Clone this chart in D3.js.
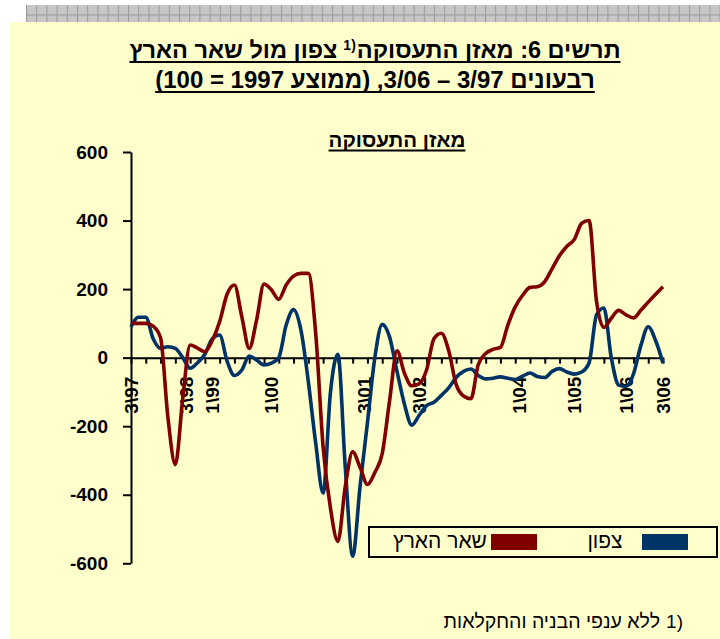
<!DOCTYPE html>
<html>
<head>
<meta charset="utf-8">
<script src="https://cdn.jsdelivr.net/npm/d3@7"></script>
<style>
body { margin: 0; background: #fff; }
text { font-family: "Liberation Sans", Arial, sans-serif; }
</style>
</head>
<body>
<div class="render"></div>
<script>
// series: north vs rest of the country, index 0..72 (half a tick mark apart)
var north = [90, 118, 118, 55, 27, 32, 27, 0, -31, -15, 10, 55, 66, -10, -52, -36, 5, -7, -21, -16,
   0, 95, 140, 80, -70, -250, -395, -100, 10, -320, -579, -376, -190, 0, 97, 60, -40, -135, -197, -168,
   -140, -130, -110, -88, -58, -40, -33, -52, -62, -60, -56, -60, -64, -54, -45, -55, -58, -40, -32, -42,
   -48, -42, -15, 125, 145, 0, -80, -84, -48, 35, 90, 50, -16];
var rest = [100, 100, 100, 92, 58, -175, -312, -120, 37, 28, 17, 50, 105, 185, 212, 119, 27, 110, 215, 198,
   170, 212, 238, 246, 246, 70, -260, -440, -536, -376, -275, -320, -370, -335, -280, -125, 20, -45, -82, -76,
   -36, 55, 71, 20, -78, -112, -120, -20, 12, 24, 30, 95, 148, 182, 205, 207, 222, 260, 298, 325,
   345, 392, 400, 165, 88, 115, 138, 125, 116, 138, 162, 185, 207];
var seriesNames = ['צפון', 'שאר הארץ'];
var seriesColors = ['#003366', '#800000'];
var xLabels = ['3\\97', '3\\98', '1\\99', '1\\00', '3\\01', '3\\02', '1\\04', '1\\05', '1\\06', '3\\06'];
var xLabelAt = [0, 7.5, 11, 19, 31.5, 39, 52.5, 60, 67, 72];
var yTicks = [-600, -400, -200, 0, 200, 400, 600];

var w = 720, h = 639;
var svg = d3.select('.render').append('svg').attr('width', w).attr('height', h);

// grey strip on top
var defs = svg.append('defs');
var pat = defs.append('pattern').attr('id', 'strip').attr('patternUnits', 'userSpaceOnUse')
   .attr('x', 26).attr('y', 5).attr('width', 10.2).attr('height', 17);
pat.append('rect').attr('width', 10.2).attr('height', 17).attr('fill', '#c6c6c6');
pat.append('rect').attr('x', 0).attr('width', 1).attr('height', 17).attr('fill', '#9a9a9a');
pat.append('rect').attr('y', 9.5).attr('width', 10.2).attr('height', 1).attr('fill', '#9a9a9a');
svg.append('rect').attr('x', 26).attr('y', 5).attr('width', w - 26).attr('height', 17).attr('fill', 'url(#strip)');

svg.append('rect').attr('x', 10).attr('y', 22).attr('width', w - 10).attr('height', h - 22).attr('fill', '#ffffcc');

// title line 1, built from pieces so the footnote mark sits right
function bold(txt, size, y) {
   return svg.append('text').attr('y', y).attr('direction', 'rtl').attr('text-anchor', 'middle')
      .style('font-size', size + 'px').style('font-weight', 'bold').text(txt);
}
var tA = bold('תרשים 6: מאזן התעסוקה', 23.5, 58);
var tS = bold('1)', 14, 50).attr('direction', 'ltr');
var tB = bold('צפון מול שאר הארץ', 23.5, 58);
var wA = tA.node().getComputedTextLength();
var wS = tS.node().getComputedTextLength();
var wB = tB.node().getComputedTextLength();
var total = wB + 6 + wS + 1 + wA;
var left = 375 - total / 2;
tB.attr('x', left + wB / 2);
tS.attr('x', left + wB + 6 + wS / 2);
tA.attr('x', left + total - wA / 2);
svg.append('rect').attr('x', left).attr('y', 61).attr('width', total).attr('height', 2).attr('fill', '#000');

var t2 = bold('רבעונים 3/97 – 3/06, (ממוצע 1997 = 100)', 24, 88).attr('x', 375);
var w2 = t2.node().getComputedTextLength();
svg.append('rect').attr('x', 375 - w2 / 2).attr('y', 91).attr('width', w2).attr('height', 2).attr('fill', '#000');

var t3 = bold('מאזן התעסוקה', 20.5, 147).attr('x', 397);
var w3 = t3.node().getComputedTextLength();
svg.append('rect').attr('x', 397 - w3 / 2).attr('y', 149.5).attr('width', w3).attr('height', 2).attr('fill', '#000');

// scales
var xScale = d3.scaleLinear().domain([0, rest.length - 1]).range([131, 663]);
var yScale = d3.scaleLinear().domain([-600, 600]).range([563.3, 152]);

var yAxis = d3.axisLeft(yScale).tickValues(yTicks).tickSize(8).tickSizeOuter(0).tickPadding(15)
   .tickFormat(function (d) { return String(d); });
var gy = svg.append('g').attr('transform', 'translate(131,0)').call(yAxis);
gy.selectAll('path,line').attr('stroke', '#000').attr('stroke-width', 2);
gy.selectAll('text').style('font-size', '19px').style('font-weight', 'bold').attr('fill', '#000')
   .style('font-family', '"Liberation Sans", Arial, sans-serif');

var xAxis = d3.axisBottom(xScale).tickValues(d3.range(0, rest.length, 2)).tickSize(6).tickSizeOuter(0)
   .tickFormat('');
var gx = svg.append('g').attr('transform', 'translate(0,' + yScale(0) + ')').call(xAxis);
gx.selectAll('path,line').attr('stroke', '#000').attr('stroke-width', 2);

svg.selectAll('.xlab').data(xLabels).enter().append('text').attr('class', 'xlab')
   .attr('transform', function (d, i) { return 'translate(' + xScale(xLabelAt[i]) + ',' + (yScale(0) + 19) + ')rotate(-90)'; })
   .attr('text-anchor', 'end').attr('dy', '0.36em')
   .style('font-size', '19px').style('font-weight', 'bold').text(function (d) { return d; });

// lines
var line = d3.line().x(function (d, i) { return xScale(i); }).y(function (d) { return yScale(d); })
   .curve(d3.curveMonotoneX);
[north, rest].forEach(function (s, k) {
   svg.append('path').datum(s).attr('d', line).attr('fill', 'none')
      .attr('stroke', seriesColors[k]).attr('stroke-width', 3.6).attr('stroke-linejoin', 'round');
});

// legend
svg.append('rect').attr('x', 369).attr('y', 527).attr('width', 348).attr('height', 30)
   .attr('fill', '#ffffcc').attr('stroke', '#000').attr('stroke-width', 2);
var legX = [642, 491];
var legTextX = [605, 440];
seriesNames.forEach(function (n, k) {
   svg.append('rect').attr('x', legX[k]).attr('y', 534).attr('width', 46).attr('height', 16).attr('fill', seriesColors[k]);
   svg.append('text').attr('x', legTextX[k]).attr('y', 548).attr('direction', 'rtl').attr('text-anchor', 'middle')
      .style('font-size', '21px').text(n);
});

// footnote
svg.append('text').attr('x', 683).attr('y', 628).attr('text-anchor', 'end').style('font-size', '19px').text('1)');
svg.append('text').attr('x', 660).attr('y', 628).attr('direction', 'rtl').attr('text-anchor', 'start')
   .style('font-size', '19.5px').text('ללא ענפי הבניה והחקלאות');
</script>
</body>
</html>
